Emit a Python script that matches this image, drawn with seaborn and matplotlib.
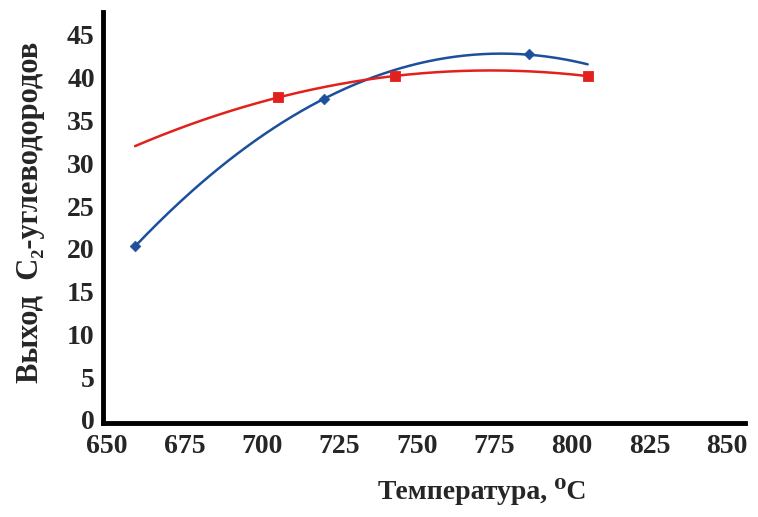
import numpy as np
import pandas as pd
import matplotlib
matplotlib.use("Agg")
import matplotlib.pyplot as plt
import seaborn as sns

# Yield of C2 hydrocarbons vs temperature, two catalyst series
blue_temp = [659, 720, 786]
blue_yield = [20.3, 37.5, 42.8]
blue_curve_end = (805, 41.5)

red_temp = [705, 743, 805]
red_yield = [37.7, 40.2, 40.2]
red_curve_start = (659, 32.0)

x_ticks = [650, 675, 700, 725, 750, 775, 800, 825, 850]
y_ticks = [0, 5, 10, 15, 20, 25, 30, 35, 40, 45]

BLUE = "#1d4f9c"
RED = "#e3211c"

sns.set_theme(style="white")
plt.rcParams["font.family"] = ["Liberation Serif", "DejaVu Serif"]
plt.rcParams["font.weight"] = "bold"

fig = plt.figure(figsize=(7.58, 5.17), dpi=100)
ax = fig.add_axes([0.136, 0.182, 0.847, 0.795])


def trend(xs, ys, lo, hi):
    coef = np.polyfit(xs, ys, 2)
    xx = np.linspace(lo, hi, 200)
    return pd.DataFrame({"T": xx, "Y": np.polyval(coef, xx)})


bx = blue_temp + [blue_curve_end[0]]
by = blue_yield + [blue_curve_end[1]]
rx = [red_curve_start[0]] + red_temp
ry = [red_curve_start[1]] + red_yield

sns.lineplot(data=trend(bx, by, min(bx), max(bx)), x="T", y="Y",
             color=BLUE, linewidth=1.8, ax=ax)
sns.lineplot(data=trend(rx, ry, min(rx), max(rx)), x="T", y="Y",
             color=RED, linewidth=1.8, ax=ax)
sns.scatterplot(x=blue_temp, y=blue_yield, marker="D", s=30,
                color=BLUE, edgecolor=BLUE, ax=ax, zorder=5)
sns.scatterplot(x=red_temp, y=red_yield, marker="s", s=55,
                color=RED, edgecolor=RED, ax=ax, zorder=5)

ax.set_xlim(648.7, 855.8)
ax.set_ylim(-0.35, 47.7)
ax.set_xticks(x_ticks)
ax.set_yticks(y_ticks)
ax.tick_params(axis="y", length=0, labelsize=20, pad=6)
ax.tick_params(axis="x", length=0, labelsize=20, pad=8)
for lab in ax.get_xticklabels() + ax.get_yticklabels():
    lab.set_fontweight("bold")

for side in ("top", "right"):
    ax.spines[side].set_visible(False)
for side in ("left", "bottom"):
    ax.spines[side].set_color("black")
    ax.spines[side].set_linewidth(3.5)

ax.set_xlabel("Температура, \u2070C", fontsize=20, fontweight="bold")
ax.xaxis.set_label_coords(0.59, -0.135)
ax.set_ylabel("Выход  C\u2082-углеводородов", fontsize=22, fontweight="bold")
ax.yaxis.set_label_coords(-0.09, 0.513)

fig.savefig("out.png", dpi=100)
